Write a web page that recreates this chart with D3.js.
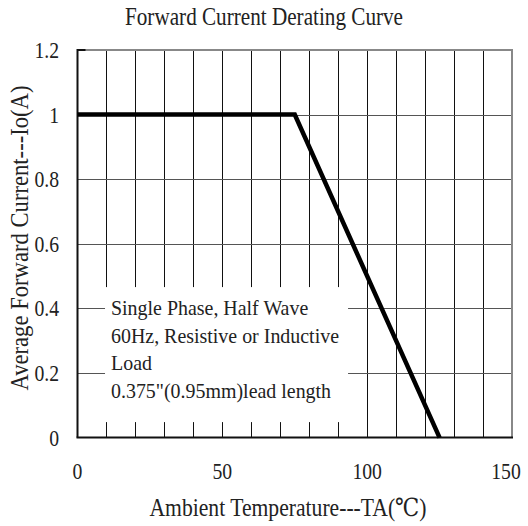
<!DOCTYPE html>
<html>
<head>
<meta charset="utf-8">
<script src="https://cdn.jsdelivr.net/npm/d3@7"></script>
<style>
  body { margin: 0; background: #fff; }
  text { font-family: "Liberation Serif", "DejaVu Serif", serif; fill: #222; }
</style>
</head>
<body>
<svg id="chart"></svg>
<script>
const temps = [0, 75, 125];
const currents = [1, 1, 0];
const xTicks = [0, 50, 100, 150];
const yTicks = [0, 0.2, 0.4, 0.6, 0.8, 1, 1.2];
const xGrid = d3.range(10, 150, 10);
const yGrid = [0.2, 0.4, 0.6, 0.8, 1];
const noteLines = ["Single Phase, Half Wave", "60Hz, Resistive or Inductive", "Load", "0.375\"(0.95mm)lead length"];

const width = 528;
const height = 526;

const svg = d3.select("#chart")
    .attr("width", width)
    .attr("height", height);

const x = d3.scaleLinear().domain([0, 150]).range([77.5, 512]);
const y = d3.scaleLinear().domain([0, 1.2]).range([437.6, 50]);

// squeeze text horizontally, the original font is narrow
function condense(sel, factor) {
    sel.each(function() {
        const w = this.getComputedTextLength();
        d3.select(this)
            .attr("textLength", w * factor)
            .attr("lengthAdjust", "spacingAndGlyphs");
    });
}

// grid
svg.selectAll(".vgrid")
    .data(xGrid)
    .enter().append("line")
    .attr("x1", d => Math.round(x(d)) + 0.5)
    .attr("x2", d => Math.round(x(d)) + 0.5)
    .attr("y1", y(1.2))
    .attr("y2", y(0))
    .attr("stroke", "#111")
    .attr("stroke-width", 1);

svg.selectAll(".hgrid")
    .data(yGrid)
    .enter().append("line")
    .attr("x1", x(0))
    .attr("x2", x(150))
    .attr("y1", d => Math.round(y(d)) + 0.5)
    .attr("y2", d => Math.round(y(d)) + 0.5)
    .attr("stroke", "#555")
    .attr("stroke-width", 1);

// white box behind the note
svg.append("rect")
    .attr("x", x(9.5))
    .attr("y", y(0.466))
    .attr("width", x(93.4) - x(9.5))
    .attr("height", y(0.048) - y(0.466))
    .attr("fill", "#fff");

// frame: top/right grey, left/bottom black
svg.append("line")
    .attr("x1", x(0)).attr("x2", x(150) + 1)
    .attr("y1", y(1.2)).attr("y2", y(1.2))
    .attr("stroke", "#888").attr("stroke-width", 2);
svg.append("line")
    .attr("x1", x(150)).attr("x2", x(150))
    .attr("y1", y(1.2)).attr("y2", y(0))
    .attr("stroke", "#888").attr("stroke-width", 2);
svg.append("line")
    .attr("x1", x(0)).attr("x2", x(0))
    .attr("y1", y(1.2) - 1).attr("y2", y(0))
    .attr("stroke", "#111").attr("stroke-width", 2);
svg.append("line")
    .attr("x1", x(0) - 1).attr("x2", x(150) + 1)
    .attr("y1", y(0)).attr("y2", y(0))
    .attr("stroke", "#111").attr("stroke-width", 2);
svg.append("line")
    .attr("x1", x(0)).attr("x2", x(0) + 8)
    .attr("y1", y(1.2)).attr("y2", y(1.2))
    .attr("stroke", "#111").attr("stroke-width", 2);

// derating curve
const line = d3.line()
    .x((d, i) => x(temps[i]))
    .y(d => y(d));

svg.append("path")
    .datum(currents)
    .attr("d", line)
    .attr("fill", "none")
    .attr("stroke", "#000")
    .attr("stroke-width", 4.5)
    .attr("stroke-linejoin", "miter");

// tick labels
svg.selectAll(".xlabel")
    .data(xTicks)
    .enter().append("text")
    .attr("x", d => Math.min(x(d), width - 22))
    .attr("y", 479)
    .attr("text-anchor", "middle")
    .attr("font-size", 24)
    .text(d => d)
    .call(condense, 0.82);

svg.selectAll(".ylabel")
    .data(yTicks)
    .enter().append("text")
    .attr("x", 59)
    .attr("y", d => y(d) + 8)
    .attr("text-anchor", "end")
    .attr("font-size", 24)
    .text(d => d)
    .call(condense, 0.82);

// note
const note = svg.selectAll(".note")
    .data(noteLines)
    .enter().append("text")
    .attr("x", 111)
    .attr("y", (d, i) => 315 + i * 27.5)
    .attr("font-size", 22)
    .text(d => d);
const noteFactor = 228 / note.nodes()[1].getComputedTextLength();
note.call(condense, noteFactor);

// titles
svg.append("text")
    .attr("x", 264)
    .attr("y", 25)
    .attr("text-anchor", "middle")
    .attr("font-size", 25)
    .attr("textLength", 278)
    .attr("lengthAdjust", "spacingAndGlyphs")
    .text("Forward Current Derating Curve");

svg.append("text")
    .attr("x", 288)
    .attr("y", 516)
    .attr("text-anchor", "middle")
    .attr("font-size", 25)
    .attr("textLength", 277)
    .attr("lengthAdjust", "spacingAndGlyphs")
    .text("Ambient Temperature---TA(℃)");

svg.append("text")
    .attr("transform", "translate(28,238) rotate(-90)")
    .attr("text-anchor", "middle")
    .attr("font-size", 25)
    .attr("textLength", 305)
    .attr("lengthAdjust", "spacingAndGlyphs")
    .text("Average Forward Current---Io(A)");
</script>
</body>
</html>
